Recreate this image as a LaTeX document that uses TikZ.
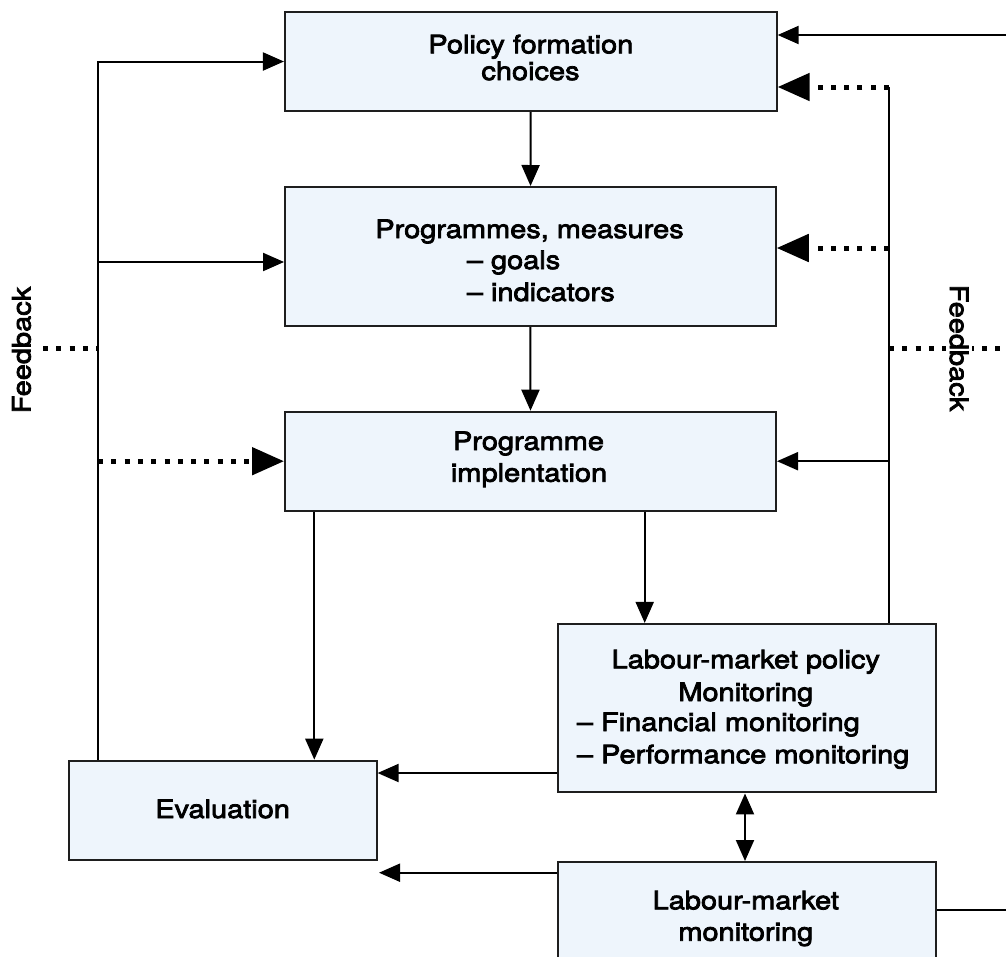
\documentclass[tikz,border=0pt]{standalone}
\usepackage{fontspec}
\setmainfont{TeX Gyre Heros}[FakeStretch=1.14,FakeBold=3]
\usetikzlibrary{arrows.meta}
\definecolor{boxfill}{RGB}{238,245,252}
\definecolor{boxline}{RGB}{30,30,30}
\begin{document}
\begin{tikzpicture}[x=1pt,y=-1pt,
  box/.style={draw=boxline, fill=boxfill, line width=2pt, inner sep=0pt, rectangle},
  txt/.style={inner sep=0pt, anchor=base, font=\fontsize{25.4}{30}\selectfont},
  txtl/.style={txt, anchor=base west},
  conn/.style={line width=2pt, draw=black},
  arr/.style={conn, -{Triangle[length=21pt,width=18pt]}},
  arrboth/.style={conn, {Triangle[length=21pt,width=18pt]}-{Triangle[length=21pt,width=18pt]}},
  dots/.style={line width=5pt, dash pattern=on 5pt off 8.3pt},
  dotarr/.style={dots, -{Triangle[length=32pt,width=27pt]}},
  fb/.style={inner sep=0pt, font=\fontsize{25.4}{30}\selectfont},
]
\useasboundingbox (0,0) rectangle (1006,956);
\clip (0,0) rectangle (1006,956);

% boxes
\node[box, minimum width=491.7pt, minimum height=99pt] (policy) at (530.8,61.5) {};
\node[box, minimum width=490.7pt, minimum height=139pt] (prog) at (530.4,256.5) {};
\node[box, minimum width=491pt, minimum height=99pt] (impl) at (530.5,461.2) {};
\node[box, minimum width=377.7pt, minimum height=168.5pt] (lmp) at (746.9,708.2) {};
\node[box, minimum width=308pt, minimum height=99.3pt] (eval) at (222.6,810.3) {};
\node[box, minimum width=377.7pt, minimum height=110pt] (lmm) at (746.9,917) {};

% texts
\node[txt] (policyA) at (530.8,53.3) {Policy formation};
\node[txt] (policyB) at (530.5,80) {choices};
\node[txt] (progA) at (529.5,238) {Programmes, measures};
\node[txtl] (progB) at (466.7,269) {\textendash{} goals};
\node[txtl] (progC) at (466.7,301) {\textendash{} indicators};
\node[txt] (implA) at (528.5,450) {Programme};
\node[txt] (implB) at (529,481.7) {implentation};
\node[txt] (lmpA) at (745.8,668.3) {Labour-market policy};
\node[txt] (lmpB) at (745.8,701) {Monitoring};
\node[txtl] (lmpC) at (576.7,731) {\textendash{} Financial monitoring};
\node[txtl] (lmpD) at (576.7,763.3) {\textendash{} Performance monitoring};
\node[txt] (evalA) at (222.6,818) {Evaluation};
\node[txt] (lmmA) at (745.8,909.3) {Labour-market};
\node[txt] (lmmB) at (745.8,940.7) {monitoring};

% helper coordinates
\coordinate (Ltop) at (98,61.5);
\coordinate (Lprog) at (98,262);
\coordinate (Limpl) at (98,461.2);
\coordinate (Lfb) at (98,348);
\coordinate (LfbEnd) at (43,348);
\coordinate (Rtop) at (889,87);
\coordinate (Rprog) at (889,248);
\coordinate (Rimpl) at (889,461.2);
\coordinate (Rfb) at (889,348);
\coordinate (RfbEnd) at (1010,348);
\coordinate (Etop) at (1010,35);
\coordinate (Ebot) at (1010,910);
\coordinate (E1) at (0,773);
\coordinate (E2) at (379,872.7);
\coordinate (X1) at (314.3,0);
\coordinate (X2) at (644.7,0);
\coordinate (D) at (745,0);

% main flow
\draw[arr] (policy) -- (prog);
\draw[arr] (prog) -- (impl);
\draw[arr] (impl.south -| X1) -- (eval.north -| X1);
\draw[arr] (impl.south -| X2) -- (lmp.north -| X2);
\draw[arr] (lmp.west |- E1) -- (E1 -| eval.east);
\draw[arr] (lmm.west |- E2) -- (E2);
\draw[arrboth] (lmp.south -| D) -- (lmm.north -| D);

% left feedback loop
\draw[arr] (eval.north -| Ltop) -- (Ltop) -- (policy.west);
\draw[arr] (Lprog) -- (Lprog -| prog.west);
\draw[dotarr] (Limpl) -- (impl.west);
\draw[dots] (LfbEnd) -- (Lfb);
\node[fb, rotate=90] (fbL) at (21.5,350) {Feedback};

% right feedback loop
\draw[conn] (lmp.north -| Rtop) -- (Rtop);
\draw[dotarr] (Rtop) -- (Rtop -| policy.east);
\draw[dotarr] (Rprog) -- (Rprog -| prog.east);
\draw[arr] (Rimpl) -- (impl.east);
\draw[dots] (Rfb) -- (RfbEnd);
\node[fb, rotate=-90, fill=white, inner sep=4pt] (fbR) at (959,348) {Feedback};

% outer connections
\draw[arr] (Etop) -- (Etop -| policy.east);
\draw[conn] (Ebot -| lmm.east) -- (Ebot);
\end{tikzpicture}
\end{document}
